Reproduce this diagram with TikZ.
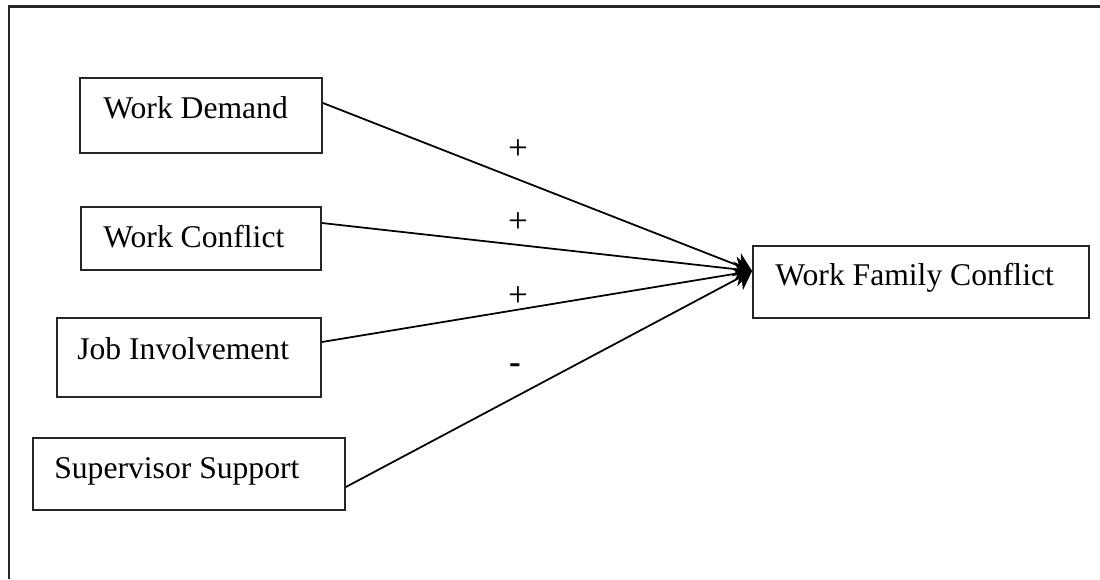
\documentclass[tikz,border=0pt]{standalone}
\usepackage{fontspec}
\setmainfont{Liberation Serif}
\usetikzlibrary{arrows.meta}

\begin{document}
\begin{tikzpicture}[x=0.02cm,y=-0.02cm,
  box/.style={draw=black!85,line width=1.05pt,inner sep=0pt},
  txt/.style={inner sep=0pt,font=\fontsize{18}{20}\selectfont},
  sign/.style={inner sep=0pt,font=\fontsize{20}{22}\selectfont},
  arr/.style={line width=1pt,-{Stealth[length=0.34cm,width=0.5cm,inset=0.1cm]}}]
\useasboundingbox (0,0) rectangle (1100,579);
% frame
\draw [line width=1.4pt,black!85] (9,579) -- (9,6.5) -- (1100,6.5);
% boxes
\node [box,minimum width=4.84cm,minimum height=1.5cm] (wd) at (201,115.5) {};
\node [txt,anchor=base west] (wdt) at (103,118) {Work Demand};
\node [box,minimum width=4.8cm,minimum height=1.26cm] (wc) at (201,238.5) {};
\node [txt,anchor=base west] (wct) at (103,247) {Work Conflict};
\node [box,minimum width=5.28cm,minimum height=1.58cm] (ji) at (189,357.5) {};
\node [txt,anchor=base west] (jit) at (77,359) {Job Involvement};
\node [box,minimum width=6.24cm,minimum height=1.44cm] (ss) at (189,474) {};
\node [txt,anchor=base west] (sst) at (54,478) {Supervisor Support};
\node [box,minimum width=6.72cm,minimum height=1.44cm] (wfc) at (921,282) {};
\node [txt,anchor=base west] (wfct) at (775,285) {Work Family Conflict};
% connectors
\coordinate (tip) at ([yshift=0.22cm]wfc.west);
\draw [arr] ([yshift=0.25cm]wd.east) -- (tip);
\draw [arr] ([yshift=0.31cm]wc.east) -- (tip);
\draw [arr] ([yshift=0.31cm]ji.east) -- (tip);
\draw [arr] ([yshift=-0.26cm]ss.east) -- (tip);
% signs
\node [sign] (s1) at (518,150) {+};
\node [sign] (s2) at (518,223) {+};
\node [sign] (s3) at (518,297) {+};
\node [sign] (s4) at (515,369) {\textbf{-}};
\end{tikzpicture}
\end{document}
